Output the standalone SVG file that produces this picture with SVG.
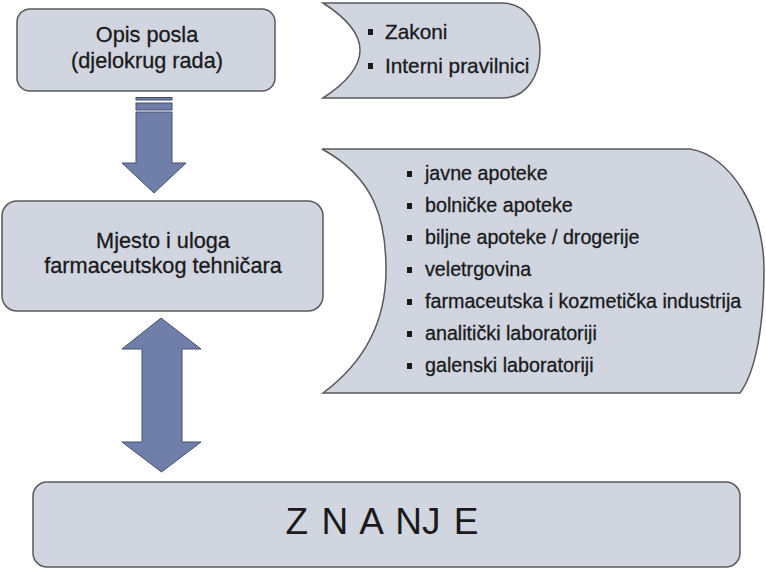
<svg xmlns="http://www.w3.org/2000/svg" width="766" height="570" viewBox="0 0 766 570">
<style>
.box{fill:#D0D5E0;stroke:#5a5a5a;stroke-width:1.5}
.arr{fill:#6F7FAA;stroke:#44506e;stroke-width:1}
.t{font-family:"Liberation Sans",Arial,sans-serif;fill:#1a1a1a;stroke:#1a1a1a;stroke-width:0.3}
.c{font-size:21.7px;text-anchor:middle}
.l{font-size:19.7px}
.z{font-size:20.8px}
.b{fill:#1a1a1a}
</style>
<rect width="766" height="570" fill="#ffffff"/>
<g id="opis">
<rect class="box" x="17" y="9" width="258" height="82" rx="13"/>
<text class="t c" x="147" y="42">Opis posla</text>
<text class="t c" x="147" y="68">(djelokrug rada)</text>
</g>
<g id="zakoni">
<path class="box" d="M323,3 L502,3 C528,3 540,28 540,50 C540,74 528,98 502,98 L323,98 Q397,50 323,3 Z"/>
<rect class="b" x="368" y="29" width="5" height="6"/>
<rect class="b" x="368" y="63" width="5" height="6"/>
<text class="t z" x="385" y="39">Zakoni</text>
<text class="t z" x="385" y="73">Interni pravilnici</text>
</g>
<g id="mjesto">
<rect class="box" x="2" y="201" width="321" height="110" rx="15"/>
<text class="t c" x="163" y="248">Mjesto i uloga</text>
<text class="t c" x="163" y="273">farmaceutskog tehničara</text>
</g>
<g id="lista">
<path class="box" d="M322,149 L690,149 C730,155 764,210 764,270 C764,320 757,370 740,393 L323,393 C365,362 386,320 386,270 C386,220 375,178 322,149 Z"/>
<rect class="b" x="407" y="171" width="5" height="6"/>
<rect class="b" x="407" y="203" width="5" height="6"/>
<rect class="b" x="407" y="235" width="5" height="6"/>
<rect class="b" x="407" y="267" width="5" height="6"/>
<rect class="b" x="407" y="299" width="5" height="6"/>
<rect class="b" x="407" y="331" width="5" height="6"/>
<rect class="b" x="407" y="363" width="5" height="6"/>
<text class="t l" x="425" y="180">javne apoteke</text>
<text class="t l" x="425" y="212">bolničke apoteke</text>
<text class="t l" x="425" y="244">biljne apoteke / drogerije</text>
<text class="t l" x="425" y="276">veletrgovina</text>
<text class="t l" x="425" y="308">farmaceutska i kozmetička industrija</text>
<text class="t l" x="425" y="340">analitički laboratoriji</text>
<text class="t l" x="425" y="372">galenski laboratoriji</text>
</g>
<g id="znanje">
<rect class="box" x="33" y="482" width="707" height="85" rx="14"/>
<text x="382" y="534" font-family="'Liberation Sans',Arial,sans-serif" fill="#1a1a1a" font-size="37" word-spacing="3" text-anchor="middle">Z N A NJ E</text>
</g>
<g id="connectors">
<rect class="arr" x="136" y="97.5" width="36" height="2.5"/>
<rect class="arr" x="136" y="103" width="36" height="7"/>
<path class="arr" d="M136,112 L172,112 L172,163 L186,163 L154,193 L122,163 L136,163 Z"/>
<path class="arr" d="M161,318 L201,349 L182,349 L182,442 L201,442 L161.5,472 L122,442 L142,442 L142,349 L122,349 Z"/>
</g>
</svg>
